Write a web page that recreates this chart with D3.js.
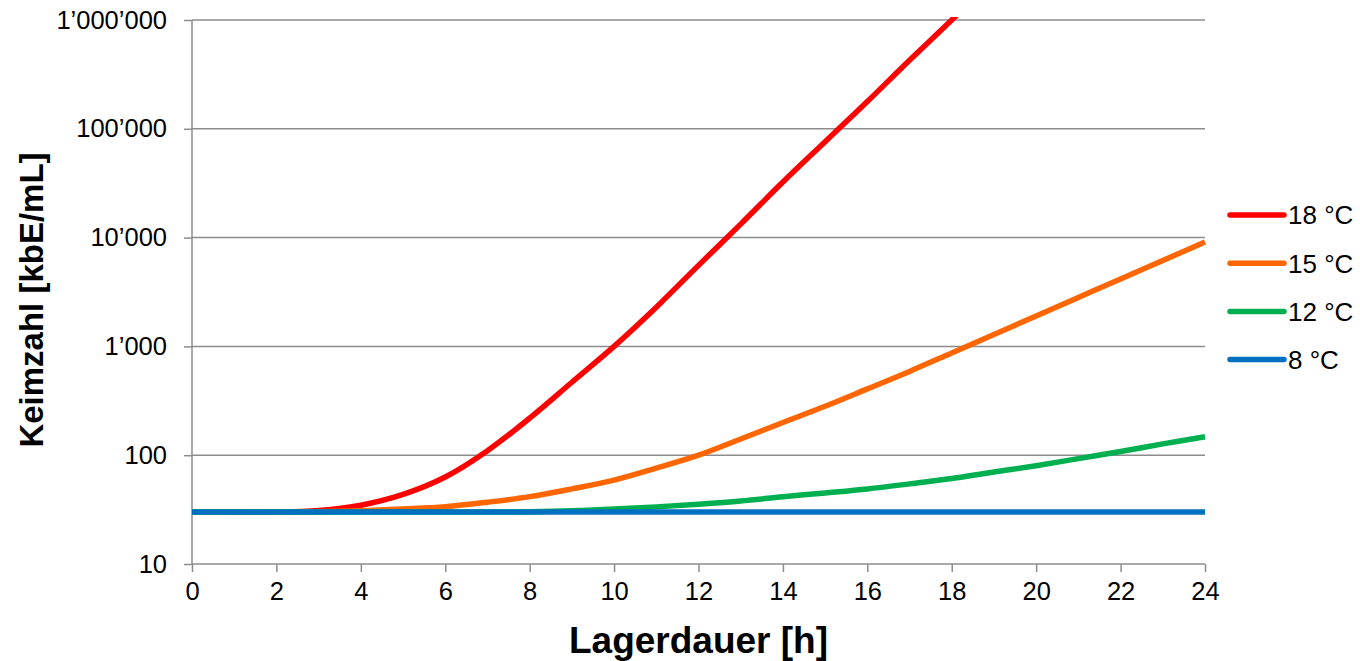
<!DOCTYPE html>
<html>
<head>
<meta charset="utf-8">
<script src="https://cdn.jsdelivr.net/npm/d3@7"></script>
<style>
    body { margin: 0; background: #fff; }
    text { font-family: Arial, "Liberation Sans", sans-serif; fill: #000; }
</style>
</head>
<body>
<svg width="1360" height="661"></svg>
<script>
// storage time in hours
const hours = [0, 1, 2, 3, 4, 5, 6, 7, 8, 9, 10, 11, 12, 13, 14, 15, 16, 17, 18, 19, 20, 21, 22, 23, 24];

// germ counts [kbE/mL] per temperature
const count18 = [30, 30, 30, 31, 34.7, 43.6, 63, 110, 219, 468, 1000, 2290, 5560, 13300, 32400, 76000, 178000, 427000, 1000000, 2400000];
const count15 = [30, 30, 30, 30.2, 30.8, 32, 33.6, 37, 41.6, 49, 59, 76, 100, 141, 200, 282, 407, 589, 871, 1288, 1905, 2818, 4169, 6166, 9120];
const count12 = [30, 30, 30, 30, 30, 30, 30, 30, 30.2, 30.8, 32, 33.5, 35.5, 38, 41.5, 45, 49, 54.5, 61, 70, 80, 93, 108, 127, 148];
const count8 = [30, 30, 30, 30, 30, 30, 30, 30, 30, 30, 30, 30, 30, 30, 30, 30, 30, 30, 30, 30, 30, 30, 30, 30, 30];

const seriesNames = ["18 °C", "15 °C", "12 °C", "8 °C"];
const seriesColors = ["#ff0000", "#ff6600", "#00b050", "#0070c0"];

const xTicks = [0, 2, 4, 6, 8, 10, 12, 14, 16, 18, 20, 22, 24];
const yTicks = [10, 100, 1000, 10000, 100000, 1000000];

const series = [count18, count15, count12, count8].map((values, i) => ({
    name: seriesNames[i],
    color: seriesColors[i],
    points: values.map((v, j) => ({ h: hours[j], v })),
}));

// layout
const plot = { left: 192, right: 1205, top: 20, bottom: 564 };
const gridColor = "#8c8c8c";

const svg = d3.select("svg");

const x = d3.scaleLinear().domain([0, 24]).range([plot.left, plot.right]);
const y = d3.scaleLog().domain([10, 1000000]).range([plot.bottom, plot.top]);

const fmt = (v) => d3.format(",")(v).replace(/,/g, "\u2019");

// horizontal grid
svg.append("g")
    .attr("class", "grid")
    .selectAll("line")
    .data(yTicks.slice(1))
    .join("line")
    .attr("x1", plot.left)
    .attr("x2", plot.right)
    .attr("y1", (d) => y(d))
    .attr("y2", (d) => y(d))
    .attr("stroke", gridColor)
    .attr("stroke-width", 1.5);

// y axis
const yAxis = svg.append("g")
    .attr("transform", `translate(${plot.left},0)`)
    .call(d3.axisLeft(y).tickValues(yTicks).tickFormat(fmt).tickSize(8).tickPadding(17));

// x axis
const xAxis = svg.append("g")
    .attr("transform", `translate(0,${plot.bottom})`)
    .call(d3.axisBottom(x).tickValues(xTicks).tickSize(8).tickPadding(10));

[xAxis, yAxis].forEach((ax) => {
    ax.select(".domain").attr("stroke", gridColor).attr("stroke-width", 1.5);
    ax.selectAll(".tick line").attr("stroke", gridColor).attr("stroke-width", 1.5);
    ax.selectAll(".tick text")
        .attr("font-family", "Arial, 'Liberation Sans', sans-serif")
        .attr("font-size", 25.5)
        .attr("fill", "#000");
});
yAxis.select(".domain").attr("d", `M0,${plot.top}V${plot.bottom}`);
xAxis.select(".domain").attr("d", `M${plot.left},0H${plot.right}`);

// clip the lines to the plot area
svg.append("clipPath")
    .attr("id", "plot-clip")
    .append("rect")
    .attr("x", plot.left)
    .attr("y", plot.top - 3)
    .attr("width", plot.right - plot.left + 3)
    .attr("height", plot.bottom - plot.top + 6);

const line = d3.line()
    .x((d) => x(d.h))
    .y((d) => y(d.v))
    .curve(d3.curveCatmullRom.alpha(0.5));

// draw lowest temperature last so it sits on top
svg.append("g")
    .attr("clip-path", "url(#plot-clip)")
    .selectAll("path")
    .data(series)
    .join("path")
    .attr("d", (d) => line(d.points))
    .attr("fill", "none")
    .attr("stroke", (d) => d.color)
    .attr("stroke-width", 5.5)
    .attr("stroke-linejoin", "round");

// legend
const legend = svg.append("g")
    .selectAll("g")
    .data(series)
    .join("g")
    .attr("transform", (d, i) => `translate(1230,${215 + i * 48.2})`);

legend.append("line")
    .attr("x1", 0)
    .attr("x2", 54)
    .attr("stroke", (d) => d.color)
    .attr("stroke-width", 5.5)
    .attr("stroke-linecap", "round");

legend.append("text")
    .attr("x", 58)
    .attr("dy", "0.36em")
    .attr("font-size", 26)
    .text((d) => d.name);

// axis titles
svg.append("text")
    .attr("x", (plot.left + plot.right) / 2)
    .attr("y", 653)
    .attr("text-anchor", "middle")
    .attr("font-size", 37)
    .attr("font-weight", "bold")
    .text("Lagerdauer [h]");

svg.append("text")
    .attr("transform", "translate(43,300) rotate(-90)")
    .attr("text-anchor", "middle")
    .attr("font-size", 33)
    .attr("font-weight", "bold")
    .text("Keimzahl [kbE/mL]");
</script>
</body>
</html>
